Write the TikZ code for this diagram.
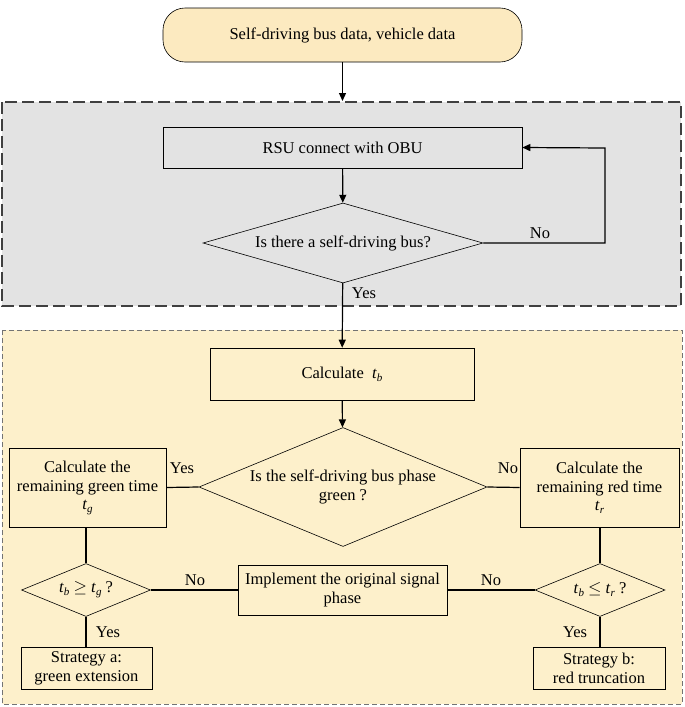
\documentclass[tikz,border=0pt]{standalone}
\usepackage{fontspec}
\setmainfont{Liberation Serif}
\usetikzlibrary{shapes.geometric,arrows.meta}
\definecolor{topfill}{HTML}{FCEAC0}
\definecolor{yelfill}{HTML}{FDF0CB}
\definecolor{grayfill}{HTML}{E3E3E3}
\newcommand{\tvar}[1]{\textit{t}\raisebox{-3pt}{\fontsize{11}{11}\selectfont\textit{#1}}}
\begin{document}
\begin{tikzpicture}[x=1pt,y=-1pt,
  every node/.style={font=\fontsize{16.5}{19}\selectfont},
  box/.style={draw, line width=0.6pt, fill=none, align=center, inner sep=0},
  dia/.style={draw, diamond, line width=0.6pt, inner sep=0},
  dtext/.style={align=center, inner sep=0},
  lab/.style={inner sep=1pt},
  ln/.style={line width=1.2pt},
  arr/.style={line width=1.2pt,-{Triangle[length=8pt,width=7pt]}}]
\useasboundingbox (0,0) rectangle (685,707);
\fill[grayfill] (2,102) rectangle (681,306);
\draw[line width=1.2pt, dash pattern=on 12pt off 5pt, draw=black!75] (2,102) rectangle (681,306);
\fill[yelfill] (2,330) rectangle (682,704);
\draw[line width=0.8pt, dash pattern=on 5pt off 3pt, draw=black!55] (2,330) rectangle (682,704);

\node[box, fill=topfill, rounded corners=22pt, minimum width=359pt, minimum height=54pt] (start) at (342.5,35) {Self-driving bus data, vehicle data};
\node[box, minimum width=359pt, minimum height=41pt] (rsu) at (342.5,147.5) {RSU connect with OBU};
\node[dia, aspect=3.5, minimum width=280pt, minimum height=80pt] (d1) at (343,243) {};
\node[dtext] (d1t) at (d1) {Is there a self-driving bus?};
\node[box, minimum width=264pt, minimum height=52pt] (calc) at (342,374) {Calculate \ \tvar{b}};
\node[dia, aspect=2.42, minimum width=288pt, minimum height=119pt] (d2) at (343,487) {};
\node[dtext] (d2t) at (d2) {Is the self-driving bus phase\\green ?};
\node[box, minimum width=157pt, minimum height=79pt] (lg) at (87.5,487.5) {Calculate the\\remaining green time\\[-1pt]\tvar{g}};
\node[box, minimum width=159pt, minimum height=79pt] (lr) at (599.5,487.5) {Calculate the\\remaining red time\\[-1pt]\tvar{r}};
\node[dia, aspect=2.43, minimum width=129pt, minimum height=53pt] (dg) at (86,590) {};
\node[dtext] (dgt) at (dg) {\tvar{b} $\geq$ \tvar{g} ?};
\node[dia, aspect=2.43, minimum width=130pt, minimum height=53pt] (dr) at (600,590) {};
\node[dtext] (drt) at (dr) {\tvar{b} $\leq$ \tvar{r} ?};
\node[box, minimum width=209pt, minimum height=50pt] (impl) at (342.5,590) {Implement the original signal\\phase};
\node[box, minimum width=131pt, minimum height=42pt] (sa) at (86.5,668) {Strategy a:\\green extension};
\node[box, minimum width=132pt, minimum height=42pt] (sb) at (599,668) {Strategy b:\\red truncation};

\draw[arr] (start) -- (start|-0,101);
\draw[arr] (rsu) -- (d1);
\coordinate (c1) at (605,243);
\coordinate (c2) at (605,148);
\draw[arr] (d1.east) -- (c1) -- (c2) -- (rsu.east);
\draw[arr] (d1) -- (calc);
\draw[arr] (calc) -- (d2);
\draw[ln] (d2.west) -- (lg.east);
\draw[ln] (d2.east) -- (lr.east-|lr.west);
\draw[ln] (lg.south-|dg.north) -- (dg.north);
\draw[ln] (lr.south-|dr.north) -- (dr.north);
\draw[ln] (dg.east) -- (impl.west);
\draw[ln] (dr.west) -- (impl.east);
\draw[ln] (dg.south) -- (sa.north-|dg.south);
\draw[ln] (dr.south) -- (sb.north-|dr.south);

\node[lab] at (540,233) {No};
\node[lab] at (364,293) {Yes};
\node[lab] at (182,468) {Yes};
\node[lab] at (508,468) {No};
\node[lab] at (195,580) {No};
\node[lab] at (491,580) {No};
\node[lab] at (108,632) {Yes};
\node[lab] at (575,632) {Yes};
\end{tikzpicture}
\end{document}
